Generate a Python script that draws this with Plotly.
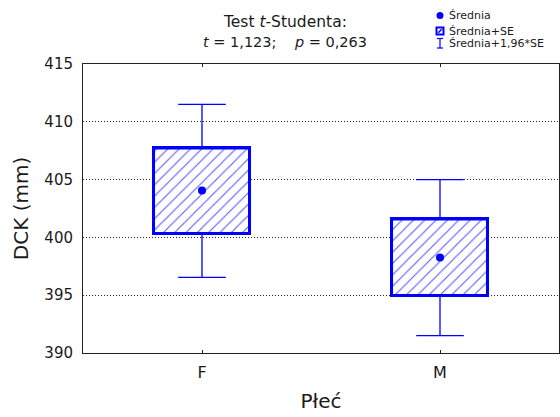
import plotly.graph_objects as go

# ---- data ----
categories = ["F", "M"]
means = [404.05, 398.27]
se_low = [400.30, 394.95]
se_high = [407.75, 401.60]
ci_low = [396.55, 391.50]
ci_high = [411.50, 405.00]

y_ticks = [390, 395, 400, 405, 410, 415]

title_line1 = "Test <i>t</i>-Studenta:"
title_line2 = "<i>t</i> = 1,123;&nbsp;&nbsp;&nbsp; <i>p</i> = 0,263"
legend_labels = ["Średnia", "Średnia+SE", "Średnia+1,96*SE"]
x_title = "Płeć"
y_title = "DCK (mm)"

# ---- layout geometry (pixels) ----
W, H = 560, 417
L, R, T, B = 83, 559, 64, 353
FONT = "DejaVu Sans"
TXT = "#1a1a1a"
BLUE = "#0000ff"


def px(x):
    return (x - L) / (R - L)


def py(y):
    return (B - y) / (B - T)


fig = go.Figure()

# SE boxes (hatched)
fig.add_trace(go.Bar(
    x=categories,
    y=[h - l for h, l in zip(se_high, se_low)],
    base=se_low,
    width=0.4,
    marker=dict(
        color=BLUE,
        line=dict(color=BLUE, width=3),
        pattern=dict(shape="/", bgcolor="white", fgcolor="#4848ff",
                     fgopacity=0.9, size=8, solidity=0.14),
    ),
    showlegend=False,
    hoverinfo="skip",
))

# whiskers (1.96*SE) drawn with a box trace on precomputed stats
fig.add_trace(go.Box(
    x=categories,
    q1=se_low,
    q3=se_high,
    median=se_high,
    lowerfence=ci_low,
    upperfence=ci_high,
    width=0.4,
    whiskerwidth=0.5,
    fillcolor="rgba(0,0,0,0)",
    line=dict(color=BLUE, width=1.3),
    boxpoints=False,
    showlegend=False,
    hoverinfo="skip",
))

# means
fig.add_trace(go.Scatter(
    x=categories,
    y=means,
    mode="markers",
    marker=dict(color=BLUE, size=8, line=dict(width=0)),
    showlegend=False,
    hoverinfo="skip",
))

# ---- annotations: title and legend ----
annotations = [
    dict(text=title_line1, x=px(285), y=py(22), xref="paper", yref="paper",
         showarrow=False, xanchor="center", yanchor="middle",
         font=dict(family=FONT, size=15.5, color=TXT)),
    dict(text=title_line2, x=px(285), y=py(42), xref="paper", yref="paper",
         showarrow=False, xanchor="center", yanchor="middle",
         font=dict(family=FONT, size=14.5, color=TXT)),
]
legend_rows = [15.5, 31, 43.5]
for lab, ry in zip(legend_labels, legend_rows):
    annotations.append(dict(
        text=lab, x=px(447), y=py(ry), xref="paper", yref="paper",
        showarrow=False, xanchor="left", yanchor="middle",
        font=dict(family=FONT, size=11, color=TXT)))

shapes = []
# legend icon: dot
shapes.append(dict(type="circle", xref="paper", yref="paper",
                   x0=px(436.5), x1=px(443.5), y0=py(19), y1=py(12),
                   fillcolor=BLUE, line=dict(width=0)))
# legend icon: hatched square
shapes.append(dict(type="rect", xref="paper", yref="paper",
                   x0=px(436.5), x1=px(443.5), y0=py(34.5), y1=py(27.5),
                   fillcolor="white", line=dict(color=BLUE, width=2)))
shapes.append(dict(type="line", xref="paper", yref="paper",
                   x0=px(438.3), x1=px(441.7), y0=py(32.7), y1=py(29.3),
                   line=dict(color=BLUE, width=1.5)))
# legend icon: whisker
shapes.append(dict(type="line", xref="paper", yref="paper",
                   x0=px(440), x1=px(440), y0=py(48), y1=py(38.5),
                   line=dict(color=BLUE, width=1.2)))
for cy in (38.5, 48):
    shapes.append(dict(type="line", xref="paper", yref="paper",
                       x0=px(437), x1=px(443), y0=py(cy), y1=py(cy),
                       line=dict(color=BLUE, width=1.2)))

fig.update_layout(
    width=W, height=H,
    margin=dict(l=L, r=W - R, t=T, b=H - B, pad=0),
    paper_bgcolor="white",
    plot_bgcolor="white",
    font=dict(family=FONT, color=TXT),
    bargap=0,
    showlegend=False,
    annotations=annotations,
    shapes=shapes,
)

fig.update_xaxes(
    type="category",
    range=[-0.5, 1.5],
    showline=True, linecolor="#222", linewidth=1, mirror="ticks",
    ticks="inside", ticklen=3, tickcolor="#222", tickwidth=1,
    showgrid=False, zeroline=False,
    tickfont=dict(family=FONT, size=16, color=TXT),
    ticklabelstandoff=5,
    title=dict(text=x_title, font=dict(family=FONT, size=20, color=TXT), standoff=12),
)
fig.update_yaxes(
    range=[390, 415],
    tickvals=y_ticks,
    ticktext=[str(v) for v in y_ticks],
    showline=True, linecolor="#222", linewidth=1, mirror=True,
    ticks="",
    showgrid=True, gridcolor="#222", gridwidth=1, griddash="1px,2px",
    zeroline=False,
    tickfont=dict(family=FONT, size=15, color=TXT),
    ticklabelstandoff=6,
    title=dict(text=y_title, font=dict(family=FONT, size=20, color=TXT), standoff=10),
)

fig.write_html("out.html")
